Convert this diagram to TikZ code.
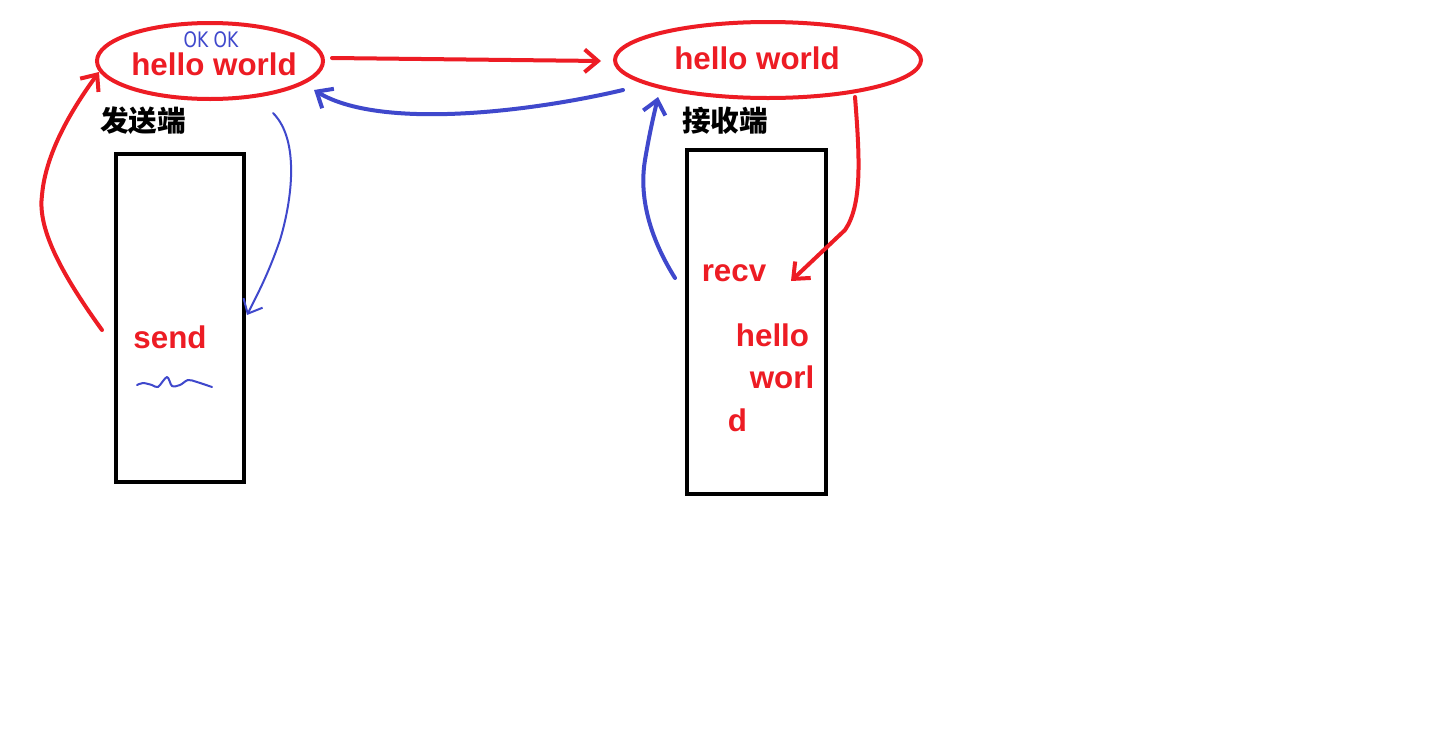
\documentclass[tikz,border=0pt]{standalone}
\usepackage{fontspec}
\setmainfont{Liberation Sans}
\newfontfamily\cjk{Noto Sans CJK SC}
\newfontfamily\hand{DejaVu Sans}
\usetikzlibrary{shapes.geometric,arrows.meta}
\definecolor{pred}{HTML}{ED1C24}
\definecolor{pblue}{HTML}{3F48CC}
\begin{document}
\begin{tikzpicture}[x=0.75pt,y=-0.75pt,
  bubble/.style={ellipse, draw=pred, line width=3pt, inner sep=0pt},
  boxnode/.style={draw=black, line width=3pt, inner sep=0pt},
  lbl/.style={text=pred, font=\fontsize{23.5}{28}\selectfont\bfseries, inner sep=0pt, anchor=base},
  cjklbl/.style={text=black, font=\cjk\fontsize{21.5}{26}\selectfont\bfseries, inner sep=0pt},
  tipstyle/.style={-{Straight Barb[length=10pt,width=17pt]}},
  redarr/.style={draw=pred, line width=3pt, line cap=round, tipstyle},
  bluearr/.style={draw=pblue, line width=3pt, line cap=round, tipstyle},
  thinblue/.style={draw=pblue, line width=1.5pt, line cap=round, -{Straight Barb[length=9pt,width=16pt]}}
]
\useasboundingbox (0,0) rectangle (1434,736);
\fill[white] (0,0) rectangle (1434,736);

% ellipses
\node[bubble, minimum width=169.5pt, minimum height=57pt] (L) at (210,61) {};
\node[bubble, minimum width=229.5pt, minimum height=57pt] (R) at (768,60) {};
\node[lbl] (Lt) at (214,75) {hello world};
\node[lbl] (Rt) at (757,69) {hello world};
\node[text=pblue, font=\hand\fontsize{16}{18}\selectfont, inner sep=0pt, xscale=0.8, anchor=base] (ok) at (211,47) {OK OK};

% boxes
\node[boxnode, minimum width=96pt, minimum height=246pt] (LB) at (180,318) {};
\node[boxnode, minimum width=104.25pt, minimum height=258pt] (RB) at (756.5,322) {};

% titles
\node[cjklbl] (Ltitle) at (143,121) {发送端};
\node[cjklbl] (Rtitle) at (725,121) {接收端};

% box texts
\node[lbl] (send) at (170,348) {send};
\node[lbl] (recv) at (734,281) {recv};
\node[lbl] (h1) at (772.5,346) {hello};
\node[lbl] (h2) at (782,388) {worl};
\node[lbl] (h3) at (737.5,431) {d};

% squiggle
\draw[pblue, line width=1.5pt, line cap=round, line join=round]
  plot[smooth] coordinates {(137,385) (143,383) (152,385) (158,387) (167,377) (172,386) (180,385) (188,380) (197,382) (212,387)};

% connectors
\draw[redarr] ([shift={(7,-3)}]L.east) -- ([shift={(-12,1)}]R.west);
\draw[bluearr] ([shift={(10,30)}]R.west) .. controls (530,112) and (380,130) .. ([shift={(-11,29)}]L.east);

\coordinate (sendStart) at (102,330);
\draw[redarr] (sendStart) .. controls (55,265) and (38,225) .. (42,195) .. controls (46,150) and (75,105) .. (99,72);

\coordinate (thinStart) at (273,113);
\draw[thinblue] (thinStart) .. controls (300,140) and (292,200) .. (280,240) .. controls (268,275) and (257,295) .. ([shift={(1,-3)}]LB.east);

\coordinate (recvStart) at (675,278);
\draw[bluearr] (recvStart) .. controls (645,230) and (640,190) .. (645,160) .. controls (650,130) and (655,110) .. (658,97);

\coordinate (rStart) at (855,97);
\draw[redarr] (rStart) .. controls (860,160) and (862,205) .. (845,230) -- (791,281);
\end{tikzpicture}
\end{document}
